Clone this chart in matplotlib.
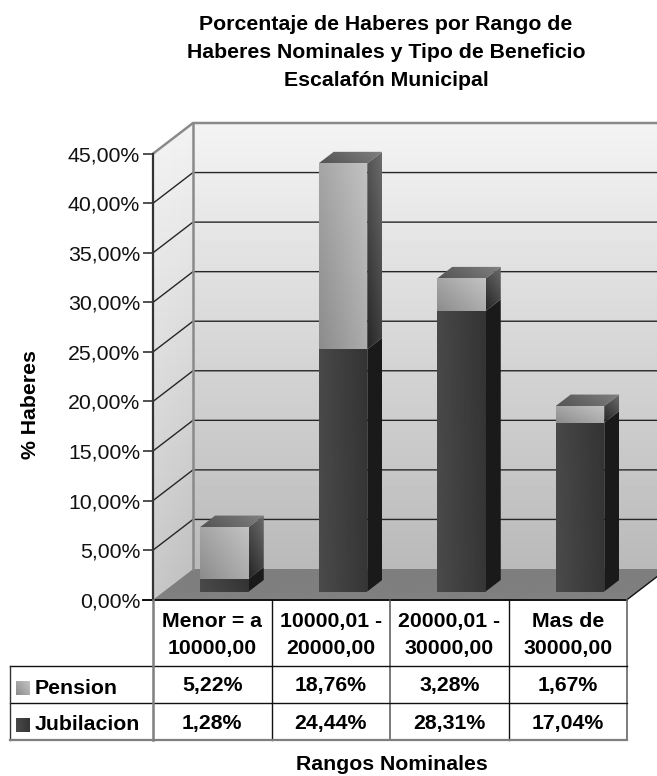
import numpy as np
import matplotlib
matplotlib.use("Agg")
import matplotlib.pyplot as plt
from matplotlib.patches import Polygon

# ---- data -------------------------------------------------------------
categories = ["Menor = a\n10000,00", "10000,01 -\n20000,00", "20000,01 -\n30000,00", "Mas de\n30000,00"]
pension = [5.22, 18.76, 3.28, 1.67]
jubilacion = [1.28, 24.44, 28.31, 17.04]
y_ticks = [0, 5, 10, 15, 20, 25, 30, 35, 40, 45]
title_lines = ["Porcentaje de Haberes por Rango de", "Haberes Nominales y Tipo de Beneficio", "Escalafón Municipal"]

W, H = 657, 776
plt.rcParams["font.family"] = ["Liberation Sans", "DejaVu Sans"]
fig = plt.figure(figsize=(W / 100, H / 100), dpi=100, facecolor="white")

AX_L, AX_R, AX_T, AX_B = 153.0, 627.0, 153.7, 599.7
ax = fig.add_axes([AX_L / W, 1 - AX_B / H, (AX_R - AX_L) / W, (AX_B - AX_T) / H])
ax.set_xlim(0, 4)
ax.set_ylim(0, 45)
ax.autoscale(False)
ax.patch.set_visible(False)
for s in ["top", "right", "bottom"]:
    ax.spines[s].set_visible(False)
ax.spines["left"].set_color("#333333")
ax.spines["left"].set_linewidth(1.6)
ax.spines["left"].set_zorder(20)

PX_X = (AX_R - AX_L) / 4
PX_Y = (AX_B - AX_T) / 45
DX = 40 / PX_X      # depth vector in data units
DY = 30.7 / PX_Y
YMAX = 45


def p(x, y, d=0.0):
    return (x + d * DX, y + d * DY)


def grad(pts, ll, lr, ul, ur, z):
    """Fill polygon pts with a bilinear grey gradient given at bbox corners."""
    pts = np.array(pts)
    x0, y0 = pts.min(axis=0)
    x1, y1 = pts.max(axis=0)
    u, v = np.meshgrid(np.linspace(0, 1, 48), np.linspace(0, 1, 48))
    arr = (ll * (1 - u) * (1 - v) + lr * u * (1 - v) + ul * (1 - u) * v + ur * u * v) / 255
    im = ax.imshow(arr, origin="lower", extent=(x0, x1, y0, y1), cmap="gray", vmin=0, vmax=1,
                   aspect="auto", interpolation="bilinear", zorder=z)
    poly = Polygon(pts, closed=True, transform=ax.transData, fc="none", ec="none")
    im.set_clip_path(poly)
    im.set_clip_box(fig.bbox)
    return im


# walls and floor
xr = 4
grad([p(0, 0, 0), p(0, 0, 1), p(0, YMAX, 1), p(0, YMAX, 0)], 200, 190, 244, 242, 1)
grad([p(0, 0, 1), p(xr, 0, 1), p(xr, YMAX, 1), p(0, YMAX, 1)], 186, 186, 243, 243, 1)
grad([p(0, 0, 0), p(xr, 0, 0), p(xr, 0, 1), p(0, 0, 1)], 128, 128, 126, 126, 2)

GRID = "#262626"
for t in y_ticks[1:-1]:
    a, b, c = p(0, t, 0), p(0, t, 1), p(xr, t, 1)
    ax.plot([a[0], b[0], c[0]], [a[1], b[1], c[1]], color=GRID, lw=1.0, clip_on=False, zorder=3)
# wall borders
a, b, c = p(0, YMAX, 0), p(0, YMAX, 1), p(xr, YMAX, 1)
ax.plot([a[0], b[0], c[0]], [a[1], b[1], c[1]], color="#8a8a8a", lw=1.8, clip_on=False, zorder=3)
a = p(0, 0, 1)
ax.plot([a[0], a[0]], [a[1], YMAX + DY], color="#8a8a8a", lw=1.8, clip_on=False, zorder=3)
a, b = p(xr, 0, 0), p(xr, 0, 1)
ax.plot([a[0], b[0]], [a[1], b[1]], color="#111111", lw=1.0, clip_on=False, zorder=3)

# stacked bars with depth
BAR_W = 0.41
D0, D1 = 0.267, 0.642
for i, (j, q) in enumerate(zip(jubilacion, pension)):
    x0 = i + 0.513 - BAR_W / 2
    x1 = x0 + BAR_W
    z = 5 + i
    tot = j + q
    # sides
    grad([p(x1, 0, D0), p(x1, 0, D1), p(x1, j, D1), p(x1, j, D0)], 26, 26, 26, 26, z)
    grad([p(x1, j, D0), p(x1, j, D1), p(x1, tot, D1), p(x1, tot, D0)], 38, 62, 84, 108, z)
    # front
    grad([p(x0, 0, D0), p(x1, 0, D0), p(x1, j, D0), p(x0, j, D0)], 74, 54, 72, 52, z)
    grad([p(x0, j, D0), p(x1, j, D0), p(x1, tot, D0), p(x0, tot, D0)], 140, 172, 165, 194, z)
    # top
    grad([p(x0, tot, D0), p(x1, tot, D0), p(x1, tot, D1), p(x0, tot, D1)], 84, 118, 92, 128, z)

# axis ticks
ax.set_yticks(y_ticks)
ax.set_yticklabels([f"{t},00%" for t in y_ticks], fontsize=15.3, color="#111111")
ax.tick_params(axis="y", length=7.2, width=1.2, color="#333333", pad=2)
ax.set_xticks(np.arange(4) + 0.5)
ax.set_xticklabels(categories, fontsize=15.3, fontweight="bold", linespacing=1.56, color="black")
ax.tick_params(axis="x", length=0, pad=8.6)

# ---- overlay for table and titles, pixel coordinates --------------------
cols = [AX_L + (AX_R - AX_L) * k / 4 for k in range(5)]
ROW = [666.0, 703.3, 740.0]
ov2 = fig.add_axes([0, 0, 1, 1], zorder=5)
ov2.patch.set_visible(False)
ov2.set_xlim(0, W)
ov2.set_ylim(H, 0)
ov2.axis("off")
ov2.autoscale(False)
# front floor edge
ov2.plot([AX_L - 10, AX_R], [AX_B, AX_B], color="#111111", lw=1.4)
for c, col, lw in zip(cols[1:], ["#111111", "#555555", "#111111", "#666666"], [1.0, 1.1, 1.0, 1.2]):
    ov2.plot([c, c], [AX_B, ROW[2]], color=col, lw=lw)
ov2.plot([10, AX_R], [ROW[0], ROW[0]], color="#111111", lw=1.0)
ov2.plot([10, AX_R], [ROW[1], ROW[1]], color="#111111", lw=1.0)
ov2.plot([10, 10], [ROW[0], ROW[2]], color="#333333", lw=1.0)
ov2.plot([10, AX_R], [ROW[2], ROW[2]], color="#7f7f7f", lw=1.6)
ov2.plot([AX_L, AX_L], [AX_B, ROW[2]], color="#7f7f7f", lw=1.8)

row_names = ["Pension", "Jubilacion"]
row_vals = [pension, jubilacion]
row_cy = [687, 724]
sw_cols = [(140, 172, 165, 194), (74, 54, 72, 52)]
for name, vals, cy, sc in zip(row_names, row_vals, row_cy, sw_cols):
    u, v = np.meshgrid(np.linspace(0, 1, 16), np.linspace(0, 1, 16))
    arr = (sc[0] * (1 - u) * (1 - v) + sc[1] * u * (1 - v) + sc[2] * (1 - u) * v + sc[3] * u * v) / 255
    ov2.imshow(arr, origin="lower", extent=(16, 30, cy + 8, cy - 6), cmap="gray", vmin=0, vmax=1,
               aspect="auto", interpolation="bilinear")
    ov2.text(35, cy + 1, name, fontsize=15.3, fontweight="bold", ha="left", va="center")
    for k, val in enumerate(vals):
        ov2.text((cols[k] + cols[k + 1]) / 2, cy - 1, f"{val:.2f}%".replace(".", ","), fontsize=15.3,
                 fontweight="bold", ha="center", va="center")

for line, cy in zip(title_lines, [24, 52, 80]):
    ov2.text(386, cy, line, fontsize=15.3, fontweight="bold", ha="center", va="center")
ov2.text(30, 404.5, "% Haberes", fontsize=15.3, fontweight="bold", rotation=90, ha="center", va="center")
ov2.text(391.5, 764, "Rangos Nominales", fontsize=15.3, fontweight="bold", ha="center", va="center")

fig.savefig("out.png", dpi=100, facecolor="white")
